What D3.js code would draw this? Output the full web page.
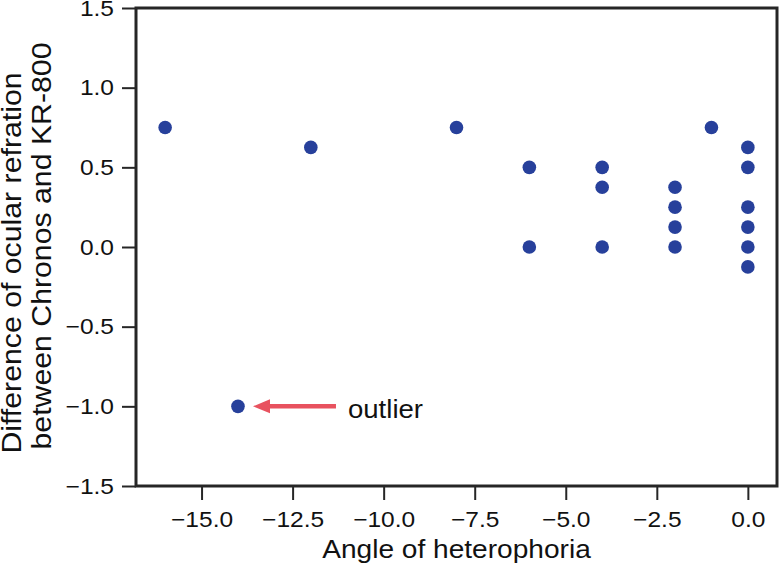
<!DOCTYPE html>
<html>
<head>
    <meta charset="utf-8">
    <title>Heterophoria vs refraction difference</title>
    <script src="https://d3js.org/d3.v7.min.js"></script>
    <style>
        body { margin: 0; background: #fff; }
        text { font-family: "Liberation Sans", Arial, sans-serif; fill: #111; }
        .axis path, .axis line { stroke: #262626; }
        .axis line { stroke-width: 2px; }
        .frame { fill: none; stroke: #262626; stroke-width: 3px; }
        circle.pt { fill: #27409b; }
    </style>
</head>
<body>
<script>
    // data
    let angle = [-16, -12, -8, -6, -6, -4, -4, -4, -2, -2, -2, -2, -1, 0, 0, 0, 0, 0, 0, -14];
    let diff  = [0.75, 0.625, 0.75, 0.5, 0, 0.5, 0.375, 0, 0.375, 0.25, 0.125, 0, 0.75, 0.625, 0.5, 0.25, 0.125, 0, -0.125, -1.0];
    let xTicks = [-15, -12.5, -10, -7.5, -5, -2.5, 0];
    let yTicks = [-1.5, -1.0, -0.5, 0.0, 0.5, 1.0, 1.5];
    let outlier = {x: -14, y: -1.0, label: "outlier"};

    let W = 779, H = 566;
    let mLeft = 136, mRight = 777, mTop = 8, mBottom = 486;

    let svg = d3.select("body").append("svg")
        .attr("width", W)
        .attr("height", H);

    let x = d3.scaleLinear().domain([-16.8, 0.8]).range([mLeft, mRight]);
    let y = d3.scaleLinear().domain([-1.5, 1.5]).range([mBottom, mTop]);

    // the font in the picture is a bit wider than Liberation Sans
    function stretch(sel, k) {
        sel.each(function() {
            let len = this.getComputedTextLength();
            d3.select(this).attr("textLength", len * k).attr("lengthAdjust", "spacingAndGlyphs");
        });
    }

    let fmt = d3.format(".1f");

    let gx = svg.append("g")
        .attr("class", "axis")
        .attr("transform", `translate(0,${mBottom})`)
        .call(d3.axisBottom(x).tickValues(xTicks).tickFormat(fmt).tickSize(14).tickPadding(11));
    gx.selectAll("text").style("font-size", "22.5px");
    stretch(gx.selectAll("text"), 1.09);

    let gy = svg.append("g")
        .attr("class", "axis")
        .attr("transform", `translate(${mLeft},0)`)
        .call(d3.axisLeft(y).tickValues(yTicks).tickFormat(fmt).tickSize(14).tickPadding(8));
    gy.selectAll("text").style("font-size", "22.5px");
    stretch(gy.selectAll("text"), 1.09);
    gy.select(".domain").remove();
    gx.select(".domain").remove();

    svg.append("rect")
        .attr("class", "frame")
        .attr("x", mLeft).attr("y", mTop)
        .attr("width", mRight - mLeft).attr("height", mBottom - mTop);

    // points
    svg.append("g")
        .selectAll("circle")
        .data(angle.map((a, i) => [a, diff[i]]))
        .join("circle")
        .attr("class", "pt")
        .attr("cx", d => x(d[0]))
        .attr("cy", d => y(d[1]))
        .attr("r", 6.8);

    // outlier arrow
    let ax = x(outlier.x), ay = y(outlier.y);
    svg.append("line")
        .attr("x1", ax + 98).attr("y1", ay)
        .attr("x2", ax + 30).attr("y2", ay)
        .attr("stroke", "#e8525f")
        .attr("stroke-width", 4.5);
    svg.append("path")
        .attr("d", `M${ax + 15},${ay} L${ax + 32},${ay - 7} L${ax + 32},${ay + 7} Z`)
        .attr("fill", "#e8525f");
    let ot = svg.append("text")
        .attr("x", ax + 110)
        .attr("y", ay + 12)
        .style("font-size", "26px")
        .text(outlier.label);
    stretch(ot, 1.06);

    // axis titles
    let xl = svg.append("text")
        .attr("x", (mLeft + mRight) / 2)
        .attr("y", 558)
        .attr("text-anchor", "middle")
        .style("font-size", "26px")
        .text("Angle of heterophoria");
    stretch(xl, 1.08);

    let yl = svg.append("g").attr("transform", "rotate(-90)");
    let yl1 = yl.append("text")
        .attr("x", -263).attr("y", 21)
        .attr("text-anchor", "middle")
        .style("font-size", "27.5px")
        .text("Difference of ocular refration");
    let yl2 = yl.append("text")
        .attr("x", -246).attr("y", 51)
        .attr("text-anchor", "middle")
        .style("font-size", "27.5px")
        .text("between Chronos and KR-800");
    stretch(yl1, 1.1);
    stretch(yl2, 1.1);
</script>
</body>
</html>
